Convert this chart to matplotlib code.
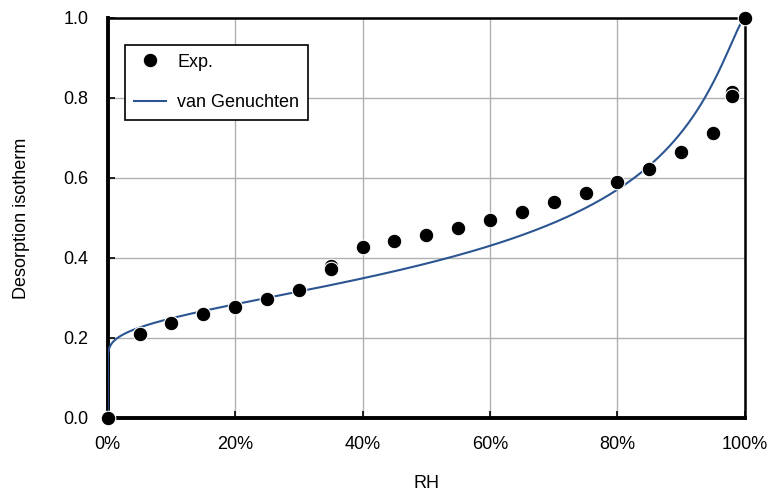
import numpy as np
import matplotlib.pyplot as plt
from matplotlib.ticker import PercentFormatter

plt.rcParams['font.family'] = ['Liberation Sans', 'DejaVu Sans']

# Measured desorption points
rh_exp = [0.0, 0.05, 0.10, 0.15, 0.20, 0.25, 0.30, 0.35, 0.35, 0.40, 0.45,
          0.50, 0.55, 0.60, 0.65, 0.70, 0.75, 0.80, 0.85, 0.90, 0.95,
          0.98, 0.98, 1.0]
w_exp = [0.0, 0.21, 0.2375, 0.26, 0.2775, 0.2975, 0.32, 0.38, 0.3725, 0.4275,
         0.4425, 0.4575, 0.475, 0.495, 0.515, 0.54, 0.5625, 0.59, 0.6225,
         0.665, 0.7125, 0.815, 0.805, 1.0]

# van Genuchten parameters
vg_alpha = 18.5
vg_n = 1.37


def van_genuchten(rh, alpha, n):
    m = 1.0 - 1.0 / n
    x = -np.log(np.clip(rh, 1e-12, 1.0))
    return (1.0 + (alpha * x) ** n) ** (-m)


rh_fit = np.concatenate([[0.0], np.logspace(-5, -1, 200), np.linspace(0.1, 1.0, 400)])
w_fit = van_genuchten(rh_fit, vg_alpha, vg_n)
w_fit[0] = 0.0

fig = plt.figure(figsize=(7.75, 4.97), dpi=100)
ax = fig.add_axes([0.139, 0.159, 0.822, 0.805])

ax.plot(rh_fit, w_fit, color='#2B5591', lw=1.5, label='van Genuchten', zorder=3)
ax.plot(rh_exp, w_exp, 'o', color='black', ms=10.5, mec='white', mew=0.8,
        label='Exp.', zorder=4, clip_on=False)

ax.set_xlim(0, 1)
ax.set_ylim(0, 1)
ax.set_xticks(np.arange(0, 1.01, 0.2))
ax.set_yticks(np.arange(0, 1.01, 0.2))
ax.xaxis.set_major_formatter(PercentFormatter(1.0, decimals=0))
ax.yaxis.set_major_formatter(lambda v, p: f'{v:.1f}')
ax.tick_params(direction='in', length=5, width=1.2, labelsize=13)
ax.tick_params(axis='x', pad=13)
ax.tick_params(axis='y', pad=14)
ax.grid(True, color='#B0B0B0', lw=1)
ax.set_axisbelow(True)

for side in ['left', 'bottom']:
    ax.spines[side].set_linewidth(2.8)
for side in ['top', 'right']:
    ax.spines[side].set_linewidth(1.8)

ax.set_xlabel('RH', fontsize=13, labelpad=16)
ax.set_ylabel('Desorption isotherm', fontsize=13, labelpad=24)

handles, labels = ax.get_legend_handles_labels()
leg = ax.legend(handles[::-1], labels[::-1], loc='upper left',
                bbox_to_anchor=(0.027, 0.933), fontsize=13, frameon=True,
                fancybox=False, edgecolor='black', framealpha=1,
                borderpad=0.5, labelspacing=1.3, handlelength=1.8,
                handletextpad=0.6, borderaxespad=0)
leg.get_frame().set_linewidth(1.2)

fig.savefig('out.png', dpi=100)
